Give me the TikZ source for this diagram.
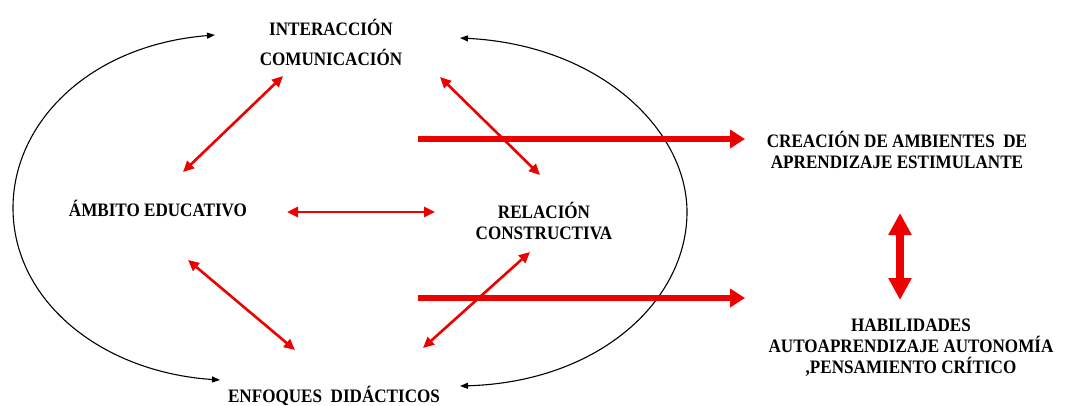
\documentclass[tikz,border=0pt]{standalone}
\usepackage{fontspec}
\setmainfont{Liberation Serif}[FakeStretch=0.9]
\usetikzlibrary{calc,positioning,arrows.meta}
\definecolor{FlechaRoja}{HTML}{EC0000}

\tikzset{
  concepto/.style={font=\fontsize{19}{21}\selectfont\bfseries, align=center, inner sep=0pt},
  ciclo/.style={draw=black, line width=1.1pt, {Triangle[length=8pt,width=6pt]}-{Triangle[length=8pt,width=6pt]}},
  flechafina/.style={draw=FlechaRoja, line width=2.6pt, {Triangle[length=11pt,width=10pt]}-{Triangle[length=11pt,width=10pt]}},
  flechagruesa/.style={draw=FlechaRoja, line width=6pt, -{Triangle[length=15pt,width=18pt]}},
  flechadoble/.style={draw=FlechaRoja, line width=7.5pt, {Triangle[length=22pt,width=22pt]}-{Triangle[length=22pt,width=22pt]}}
}

\begin{document}
\begin{tikzpicture}[x=1pt, y=-1pt]
    \useasboundingbox (0,0) rectangle (1070,405);

    % conceptos
    \node[concepto] (inter) at (331,42) {INTERACCIÓN\\[9pt]COMUNICACIÓN};
    \node[concepto] (ambito) at (158,208) {ÁMBITO EDUCATIVO};
    \node[concepto] (relacion) at (544,221) {RELACIÓN\\CONSTRUCTIVA};
    \node[concepto] (enfoques) at (334,396) {ENFOQUES\ \ DIDÁCTICOS};
    \node[concepto] (creacion) at (897,150) {CREACIÓN DE AMBIENTES\ \ DE\\APRENDIZAJE ESTIMULANTE};
    \node[concepto] (habilidades) at (911,348) {HABILIDADES\\AUTOAPRENDIZAJE AUTONOMÍA\\,PENSAMIENTO CRÍTICO};

    % ciclo
    \draw[ciclo] ([shift={(-116,-7)}]inter.center)
      .. controls (90,45) and (13,122) .. (13,208)
      .. controls (13,300) and (100,372) .. ([shift={(-114,-16)}]enfoques.center);
    \draw[ciclo] ([shift={(129,-4)}]inter.center)
      .. controls (600,45) and (687,130) .. (687,212)
      .. controls (687,300) and (600,382) .. ([shift={(126,-10)}]enfoques.center);

    % relaciones internas
    \draw[flechafina] ([shift={(25,-36)}]ambito.center) -- ([shift={(-48,34)}]inter.center);
    \draw[flechafina] ([shift={(109,35)}]inter.center) -- ([shift={(-4,-46)}]relacion.center);
    \draw[flechafina] ([shift={(129,4)}]ambito.center) -- ([shift={(-109,-9)}]relacion.center);
    \draw[flechafina] ([shift={(30,52)}]ambito.center) -- ([shift={(-39,-46)}]enfoques.center);
    \draw[flechafina] ([shift={(-14,31)}]relacion.center) -- ([shift={(89,-48)}]enfoques.center);

    % resultados
    \coordinate (salidaA) at (418,139);
    \coordinate (salidaB) at (418,298);
    \draw[flechagruesa] (salidaA) -- ([shift={(-152,-11)}]creacion.center);
    \draw[flechagruesa] (salidaB) -- ([shift={(-166,-50)}]habilidades.center);
    \draw[flechadoble] ([shift={(3,63)}]creacion.center) -- ([shift={(-11,-48)}]habilidades.center);
\end{tikzpicture}
\end{document}
